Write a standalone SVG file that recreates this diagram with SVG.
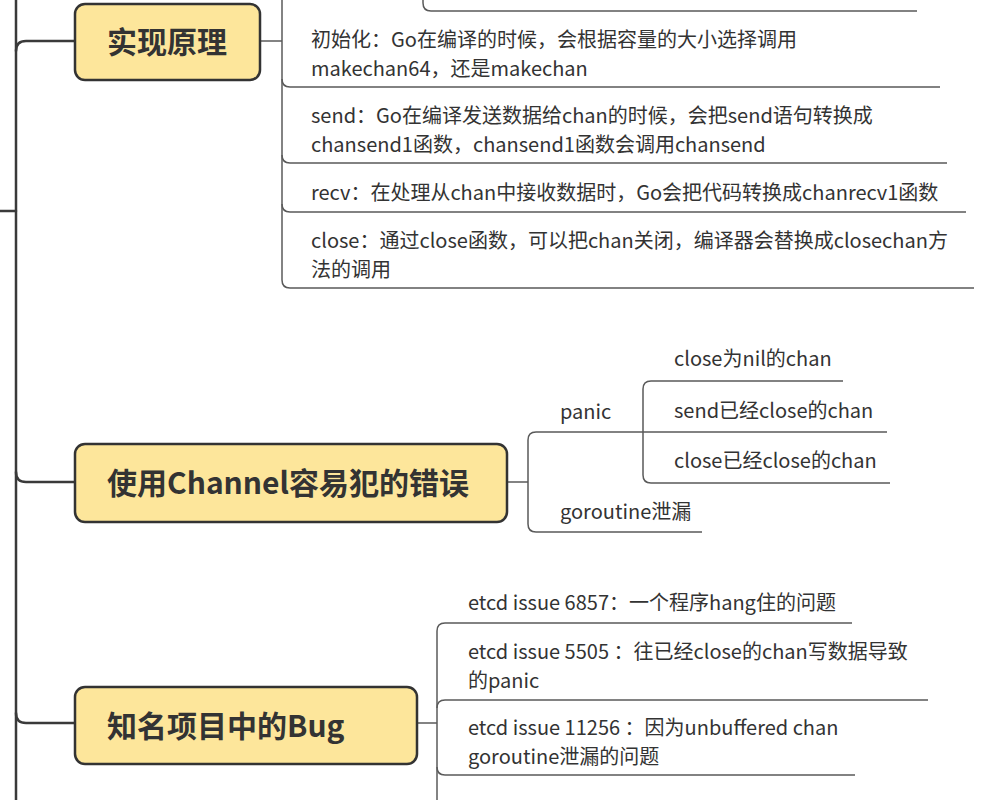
<svg xmlns="http://www.w3.org/2000/svg" width="994" height="800" viewBox="0 0 994 800">
<style>
.main{fill:none;stroke:#3a3a3a;stroke-width:2.5;stroke-linecap:round}
.sub{fill:none;stroke:#5a5a5a;stroke-width:1.5}
.box{fill:#fde69b;stroke:#333;stroke-width:2.5}
.title{font-family:"Noto Sans CJK SC",sans-serif;font-size:30px;font-weight:bold;fill:#333}
.t{font-family:"Noto Sans CJK SC",sans-serif;font-size:20px;fill:#333}
</style>
<rect width="994" height="800" fill="#ffffff"/>
<g id="connectors">
  <path class="main" d="M0,211 L16,211"/>
  <path class="main" d="M16,0 L16,800"/>
  <path class="main" d="M16,51 Q16,41 26,41 L75,41"/>
  <path class="main" d="M16,472 Q16,482 26,482 L75,482"/>
  <path class="main" d="M16,713 Q16,723 26,723 L75,723"/>
  <path class="sub" d="M260,41 L282,41"/>
  <path class="sub" d="M282,0 L282,280"/>
  <path class="sub" d="M282,79 Q282,87 290,87 L940,87"/>
  <path class="sub" d="M282,155 Q282,163 290,163 L947,163"/>
  <path class="sub" d="M282,204 Q282,212 290,212 L966,212"/>
  <path class="sub" d="M282,280 Q282,288 290,288 L974,288"/>
  <path class="sub" d="M423,0 L423,3 Q423,11 431,11 L917,11"/>
  <path class="sub" d="M507,482 L528,482"/>
  <path class="sub" d="M528,440 Q528,432 536,432 L887,432"/>
  <path class="sub" d="M528,440 L528,524 Q528,532 536,532 L702,532"/>
  <path class="sub" d="M643,389 Q643,381 651,381 L843,381"/>
  <path class="sub" d="M643,389 L643,475 Q643,483 651,483 L890,483"/>
  <path class="sub" d="M417,723 L437,723"/>
  <path class="sub" d="M437,631 Q437,623 445,623 L852,623"/>
  <path class="sub" d="M437,631 L437,800"/>
  <path class="sub" d="M437,708 Q437,700 445,700 L928,700"/>
  <path class="sub" d="M437,767 Q437,775 445,775 L855,775"/>
</g>
<g id="node-impl">
  <rect class="box" x="75" y="4" width="185" height="76" rx="10"/>
  <text class="title" x="107" y="53">实现原理</text>
</g>
<g id="node-init">
  <text class="t" x="311" y="46.5">初始化：Go在编译的时候，会根据容量的大小选择调用<tspan x="311" dy="29">makechan64，还是makechan</tspan></text>
</g>
<g id="node-send">
  <text class="t" x="311" y="122.5">send：Go在编译发送数据给chan的时候，会把send语句转换成<tspan x="311" dy="29">chansend1函数，chansend1函数会调用chansend</tspan></text>
</g>
<g id="node-recv">
  <text class="t" x="311" y="200">recv：在处理从chan中接收数据时，Go会把代码转换成chanrecv1函数</text>
</g>
<g id="node-close">
  <text class="t" x="311" y="247.5">close：通过close函数，可以把chan关闭，编译器会替换成closechan方<tspan x="311" dy="29">法的调用</tspan></text>
</g>
<g id="node-mistakes">
  <rect class="box" x="75" y="444" width="432" height="78" rx="10"/>
  <text class="title" x="107" y="494">使用Channel容易犯的错误</text>
</g>
<g id="node-panic">
  <text class="t" x="560" y="419">panic</text>
</g>
<g id="node-p1"><text class="t" x="674" y="366">close为nil的chan</text></g>
<g id="node-p2"><text class="t" x="674" y="418">send已经close的chan</text></g>
<g id="node-p3"><text class="t" x="674" y="468">close已经close的chan</text></g>
<g id="node-leak">
  <text class="t" x="560" y="519">goroutine泄漏</text>
</g>
<g id="node-bugs">
  <rect class="box" x="75" y="687" width="342" height="77" rx="10"/>
  <text class="title" x="107" y="737">知名项目中的Bug</text>
</g>
<g id="node-b1"><text class="t" x="468" y="610">etcd issue 6857：一个程序hang住的问题</text></g>
<g id="node-b2">
  <text class="t" x="468" y="658.5">etcd issue 5505 ：往已经close的chan写数据导致<tspan x="468" dy="29">的panic</tspan></text>
</g>
<g id="node-b3">
  <text class="t" x="468" y="734.5">etcd issue 11256 ：因为unbuffered chan<tspan x="468" dy="29">goroutine泄漏的问题</tspan></text>
</g>
</svg>
